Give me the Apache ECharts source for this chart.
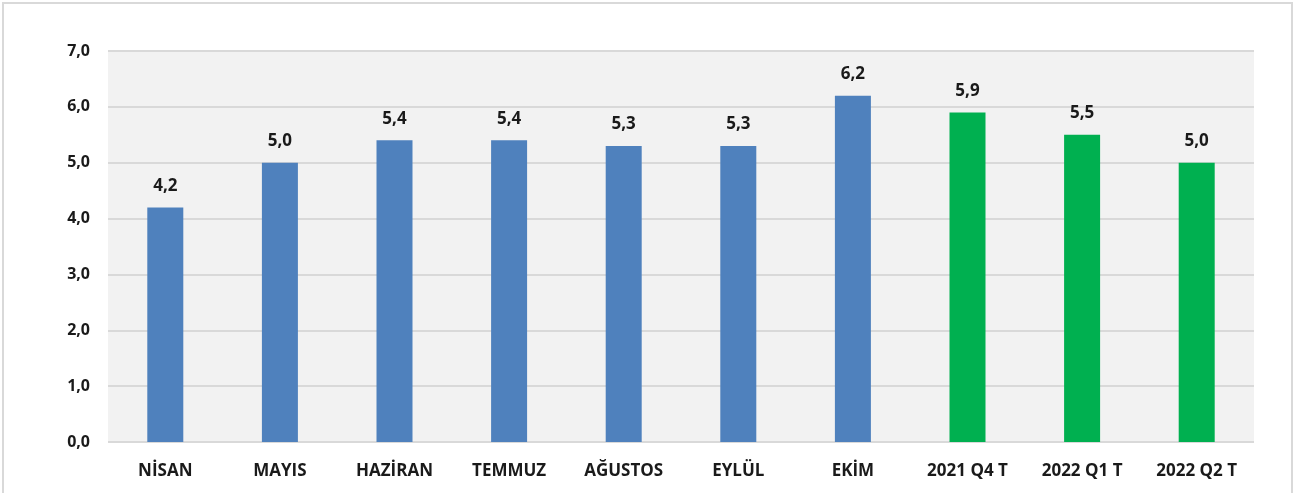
<!DOCTYPE html>
<html>
<head>
<meta charset="utf-8">
<script src="https://cdn.jsdelivr.net/npm/echarts@6/dist/echarts.min.js"></script>
<style>
html, body { margin: 0; padding: 0; background: #fff; }
#chart { width: 1297px; height: 493px; }
</style>
</head>
<body>
<div id="chart"></div>
<script>
var categories = ['NİSAN', 'MAYIS', 'HAZİRAN', 'TEMMUZ', 'AĞUSTOS', 'EYLÜL', 'EKİM', '2021 Q4 T', '2022 Q1 T', '2022 Q2 T'];
var values = [4.2, 5.0, 5.4, 5.4, 5.3, 5.3, 6.2, 5.9, 5.5, 5.0];
var barColors = ['#4f81bd', '#4f81bd', '#4f81bd', '#4f81bd', '#4f81bd', '#4f81bd', '#4f81bd', '#00b050', '#00b050', '#00b050'];

var fmt = function (v) { return v.toFixed(1).replace('.', ','); };

var chart = echarts.init(document.getElementById('chart'));
chart.setOption({
	animation: false,
	graphic: [{
		type: 'rect',
		shape: { x: 3, y: 3, width: 1289, height: 500 },
		style: { fill: 'none', stroke: '#d9d9d9', lineWidth: 2 },
		z: -10
	}],
	grid: {
		left: 108,
		right: 43,
		top: 51,
		bottom: 51,
		show: true,
		backgroundColor: '#f2f2f2',
		borderWidth: 0
	},
	xAxis: {
		type: 'category',
		data: categories,
		axisLine: { show: false },
		axisTick: { show: false },
		axisLabel: {
			margin: 21,
			color: '#1a1a1a',
			fontFamily: 'Open Sans',
			fontWeight: 'bold',
			fontSize: 17
		}
	},
	yAxis: {
		type: 'value',
		min: 0,
		max: 7,
		interval: 1,
		axisLine: { show: false },
		axisTick: { show: false },
		splitLine: { lineStyle: { color: '#d9d9d9', width: 2 } },
		axisLabel: {
			margin: 18,
			color: '#1a1a1a',
			fontFamily: 'Open Sans',
			fontWeight: 'bold',
			fontSize: 16,
			formatter: fmt
		}
	},
	series: [{
		type: 'bar',
		barWidth: 36,
		data: values.map(function (v, i) {
			return { value: v, itemStyle: { color: barColors[i] } };
		}),
		label: {
			show: true,
			position: 'top',
			distance: 13,
			color: '#1a1a1a',
			fontFamily: 'Open Sans',
			fontWeight: 'bold',
			fontSize: 17,
			formatter: function (p) { return fmt(p.value); }
		}
	}]
});
</script>
</body>
</html>
